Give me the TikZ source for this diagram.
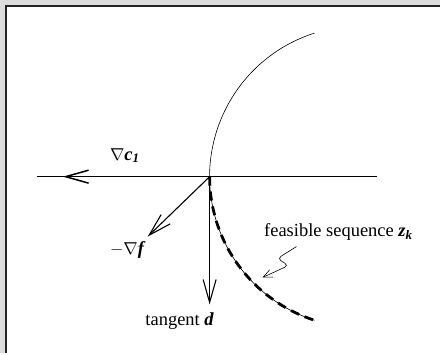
\documentclass[tikz,border=0pt]{standalone}
\usepackage{amsmath}
\usepackage{fontspec}
\setmainfont{Liberation Serif}
\usetikzlibrary{arrows.meta}
\definecolor{panelgray}{RGB}{220,220,220}
\definecolor{framedark}{RGB}{35,35,35}

\begin{document}
\begin{tikzpicture}[x=1pt,y=1pt,
  barb/.style={-{Straight Barb[length=23pt,width=13pt]}},
  smallbarb/.style={-{Straight Barb[length=9pt,width=8pt]}},
  lbl/.style={font=\fontsize{18.5}{22}\selectfont,inner sep=0pt}]
  \fill[panelgray] (0,0) rectangle (441,354);
  \fill[white] (6,0) rectangle (441,348);
  \draw[framedark,line width=1.6pt] (6,0) -- (6,348) -- (441,348);
  \useasboundingbox (0,0) rectangle (441,354);
  \coordinate (P) at (210,177);
  \coordinate (C) at (361,177);
  \coordinate (L) at (37,177);
  \coordinate (R) at (378,177);
  \coordinate (gc) at (63,177);
  \coordinate (gf) at (148,117);
  \coordinate (td) at (210,49);
  \coordinate (sqs) at (297,107);
  \coordinate (sqa) at (278,95);
  \coordinate (sqb) at (289,88);
  \coordinate (sqt) at (263,76);
  \draw[line width=0.6pt] (L) -- (R);
  \draw[line width=0.6pt] ([shift={(107.7:151)}]C) arc[start angle=107.7,end angle=252.3,radius=151];
  \draw[line width=2.8pt,dash pattern=on 9pt off 6pt] (P) arc[start angle=180,end angle=252.3,radius=151];
  \draw[barb,line width=1.5pt] (P) -- (gc);
  \draw[barb,line width=1.1pt] (P) -- (gf);
  \draw[barb,line width=1.1pt] (P) -- (td);
  \draw[smallbarb,line width=0.6pt,rounded corners=4pt] (sqs) -- (sqa) -- (sqb) -- (sqt);
  \node[lbl] (lc) at (125,198) {$\nabla$\textbf{\textit{c}}\textsubscript{\textbf{\textit{1}}}};
  \node[lbl] (lf) at (128,104) {$-\nabla$\textbf{\textit{f}}};
  \node[lbl] (ld) at (180,32) {tangent \textbf{\textit{d}}};
  \node[lbl] (lz) at (339,122) {feasible sequence \textbf{\textit{z}}\textsubscript{\textbf{\textit{k}}}};
\end{tikzpicture}
\end{document}
